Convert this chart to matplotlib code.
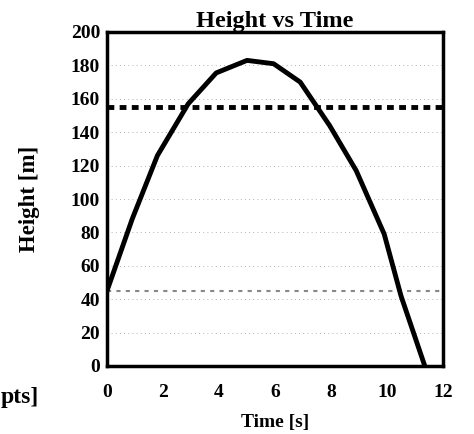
import matplotlib
matplotlib.use('Agg')
import matplotlib.pyplot as plt

# values
time_s = [0.0, 0.9, 1.8, 2.9, 3.9, 5.0, 5.95, 6.9, 7.95, 8.9, 9.9, 10.5, 11.35]
height_m = [45, 88, 126, 157, 175.5, 183, 181, 170, 144, 117, 79, 42, 0]
upper_level = 155
lower_level = 45
x_ticks = [0, 2, 4, 6, 8, 10, 12]
y_ticks = [0, 20, 40, 60, 80, 100, 120, 140, 160, 180, 200]

plt.rcParams['font.family'] = ['Liberation Serif', 'DejaVu Serif']
plt.rcParams['font.weight'] = 'bold'

fig = plt.figure(figsize=(4.74, 4.34), dpi=100)
ax = fig.add_axes([107 / 474, 1 - 366 / 434, 336 / 474, 334 / 434])

## grid
for yv in y_ticks[1:-1]:
    ax.axhline(yv, color='#999999', lw=0.6, ls=(0, (1, 4)), zorder=1)

## reference levels
ax.axhline(upper_level, color='black', lw=3.5, ls=(0, (1.4, 1.1)), zorder=2)
ax.axhline(lower_level, color='#888888', lw=1.5, ls=(0, (2, 2.5)), zorder=2)

## trajectory
ax.plot(time_s, height_m, color='black', lw=3.5, solid_joinstyle='round', zorder=3)

ax.set_xlim(0, 12)
ax.set_ylim(0, 200)
ax.set_xticks(x_ticks)
ax.set_yticks(y_ticks)
ax.tick_params(length=0, labelsize=14)
ax.tick_params(axis='x', pad=13)
ax.tick_params(axis='y', pad=5)
for lab in ax.get_xticklabels() + ax.get_yticklabels():
    lab.set_fontweight('bold')
for s in ax.spines.values():
    s.set_linewidth(2.5)

ax.set_title('Height vs Time', fontsize=17.5, fontweight='bold', pad=0)
ax.set_xlabel('Time [s]', fontsize=14, fontweight='bold', labelpad=9)
ax.set_ylabel('Height [m]', fontsize=16.5, fontweight='bold', labelpad=22)

fig.text(1 / 474, 1 - 403 / 434, 'pts]', fontsize=17, fontweight='bold', ha='left')

fig.savefig('out.png', dpi=100)
